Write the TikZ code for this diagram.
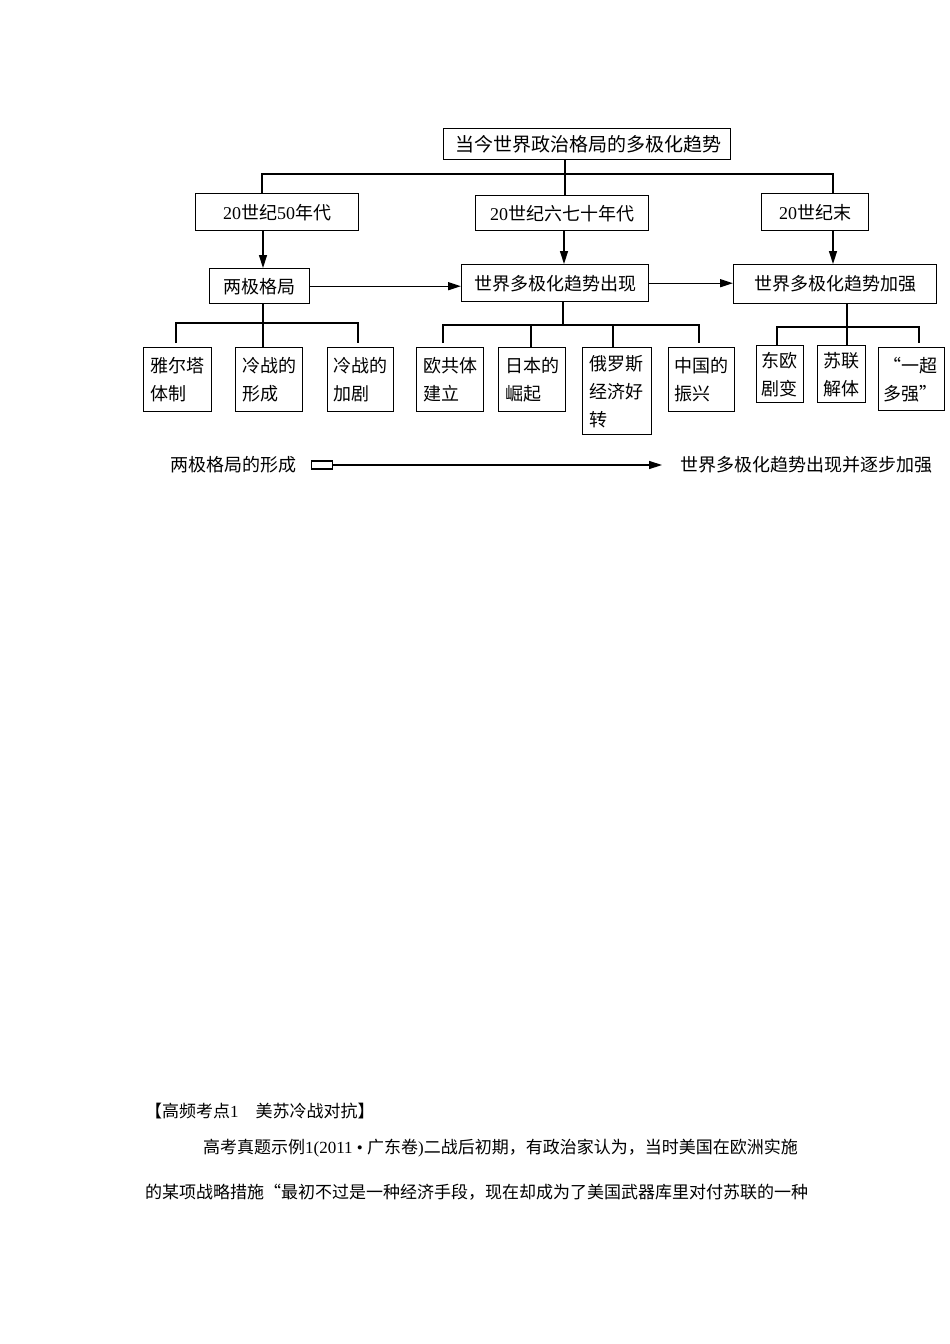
\documentclass[tikz,border=0pt]{standalone}
\usepackage{fontspec}
\setmainfont{Liberation Serif}
\newfontfamily\cjk{Noto Sans CJK SC}
\newcommand{\lat}[1]{{\rmfamily #1}}
\usetikzlibrary{arrows.meta,calc}
\begin{document}
\begin{tikzpicture}[x=1pt,y=-1pt,
  box/.style={draw, line width=1.4pt, inner sep=0pt, anchor=north west,
    font=\fontsize{18}{28}\selectfont\cjk},
  cbox/.style={box, align=center},
  lbox/.style={box, align=left},
  conn/.style={line width=1.4pt},
  arr/.style={conn, -{Triangle[length=13pt,width=8pt]}},
  txt/.style={inner sep=0pt, anchor=west, font=\fontsize{18}{22}\selectfont\cjk},
  body/.style={inner sep=0pt, anchor=west, font=\fontsize{17}{20}\selectfont\cjk}]
\fill[white] (0,0) rectangle (950,1344);
\useasboundingbox (0,0) rectangle (950,1344);

% top level
\node[lbox, font=\fontsize{19}{22}\selectfont\cjk, minimum width=287, minimum height=31, text width=263] (top) at (443,128) {当今世界政治格局的多极化趋势};

\node[cbox, minimum width=163, minimum height=37] (a) at (195,193) {\lat{20}世纪\lat{50}年代};
\node[cbox, minimum width=173, minimum height=35] (b) at (475,195) {\lat{20}世纪六七十年代};
\node[cbox, minimum width=107, minimum height=37] (c) at (761,193) {\lat{20}世纪末};

\node[cbox, minimum width=100, minimum height=35] (d) at (209,268) {两极格局};
\node[cbox, minimum width=187, minimum height=37] (e) at (461,264) {世界多极化趋势出现};
\node[cbox, minimum width=203, minimum height=39] (f) at (733,264) {世界多极化趋势加强};

\coordinate (bus1) at (0,174);
\coordinate (xa) at (262,0);
\coordinate (xb) at (565,0);
\coordinate (xc) at (833,0);
\draw[conn] (a.north -| xa) -- (bus1 -| xa) -- (bus1 -| xc) -- (c.north -| xc);
\draw[conn] (top.south -| xb) -- (b.north -| xb);

\coordinate (xd) at (263,0);
\coordinate (xe) at (564,0);
\draw[arr] (a.south -| xd) -- (d.north -| xd);
\draw[arr] (b.south -| xe) -- (e.north -| xe);
\draw[arr] (c.south -| xc) -- (f.north -| xc);
\draw[arr] (d.east) -- (d.east -| e.west);
\draw[arr] (e.east) -- (e.east -| f.west);

% lower boxes
\node[lbox, minimum width=68, minimum height=64, text width=54] (g1) at (143,347) {雅尔塔\\体制};
\node[lbox, minimum width=67, minimum height=64, text width=53] (g2) at (235,347) {冷战的\\形成};
\node[lbox, minimum width=66, minimum height=64, text width=54] (g3) at (327,347) {冷战的\\加剧};

\node[lbox, minimum width=67, minimum height=64, text width=53] (h1) at (416,347) {欧共体\\建立};
\node[lbox, minimum width=67, minimum height=64, text width=54] (h2) at (498,347) {日本的\\崛起};
\node[lbox, minimum width=69, minimum height=87, text width=55] (h3) at (582,347) {俄罗斯\\经济好\\转};
\node[lbox, minimum width=66, minimum height=64, text width=54] (h4) at (668,347) {中国的\\振兴};

\node[lbox, minimum width=47, minimum height=57, text width=37] (i1) at (756,345) {东欧\\剧变};
\node[lbox, minimum width=48, minimum height=57, text width=37] (i2) at (817,345) {苏联\\解体};
\node[lbox, minimum width=66, minimum height=63, text width=56] (i3) at (878,347) {“一超\\多强”};

% group connectors
\coordinate (busd) at (0,323);
\coordinate (x1) at (176,0);
\coordinate (x3) at (358,0);
\draw[conn] (d.south -| xd) -- (g2.north -| xd);
\draw[conn] ([yshift=4pt]g1.north -| x1) -- (busd -| x1) -- (busd -| x3) -- ([yshift=4pt]g3.north -| x3);

\coordinate (buse) at (0,325);
\coordinate (xe0) at (563,0);
\coordinate (xh1) at (443,0);
\coordinate (xh2) at (531,0);
\coordinate (xh3) at (613,0);
\coordinate (xh4) at (699,0);
\draw[conn] (e.south -| xe0) -- (buse -| xe0);
\draw[conn] ([yshift=4pt]h1.north -| xh1) -- (buse -| xh1) -- (buse -| xh4) -- ([yshift=4pt]h4.north -| xh4);
\draw[conn] (buse -| xh2) -- (h2.north -| xh2);
\draw[conn] (buse -| xh3) -- (h3.north -| xh3);

\coordinate (busf) at (0,327);
\coordinate (xf0) at (847,0);
\coordinate (xi1) at (777,0);
\coordinate (xi3) at (919,0);
\draw[conn] (f.south -| xf0) -- (i2.north -| xf0);
\draw[conn] (i1.north -| xi1) -- (busf -| xi1) -- (busf -| xi3) -- ([yshift=4pt]i3.north -| xi3);

% legend
\node[txt] (l1) at (170,465) {两极格局的形成};
\node[draw, line width=1.2pt, inner sep=0pt, minimum width=21, minimum height=8, anchor=west] (lr) at (311,465) {};
\node[txt] (l2) at (680,465) {世界多极化趋势出现并逐步加强};
\draw[arr] (lr.east) -- (l2.west) [shorten >=18pt];

% body text
\node[body] (t1) at (145,1111) {【高频考点\lat{1}　美苏冷战对抗】};
\node[body] (t2) at (203,1148) {高考真题示例\lat{1(2011 • }广东卷\lat{)}二战后初期，有政治家认为，当时美国在欧洲实施};
\node[body] (t3) at (145,1192) {的某项战略措施“最初不过是一种经济手段，现在却成为了美国武器库里对付苏联的一种};
\end{tikzpicture}
\end{document}
